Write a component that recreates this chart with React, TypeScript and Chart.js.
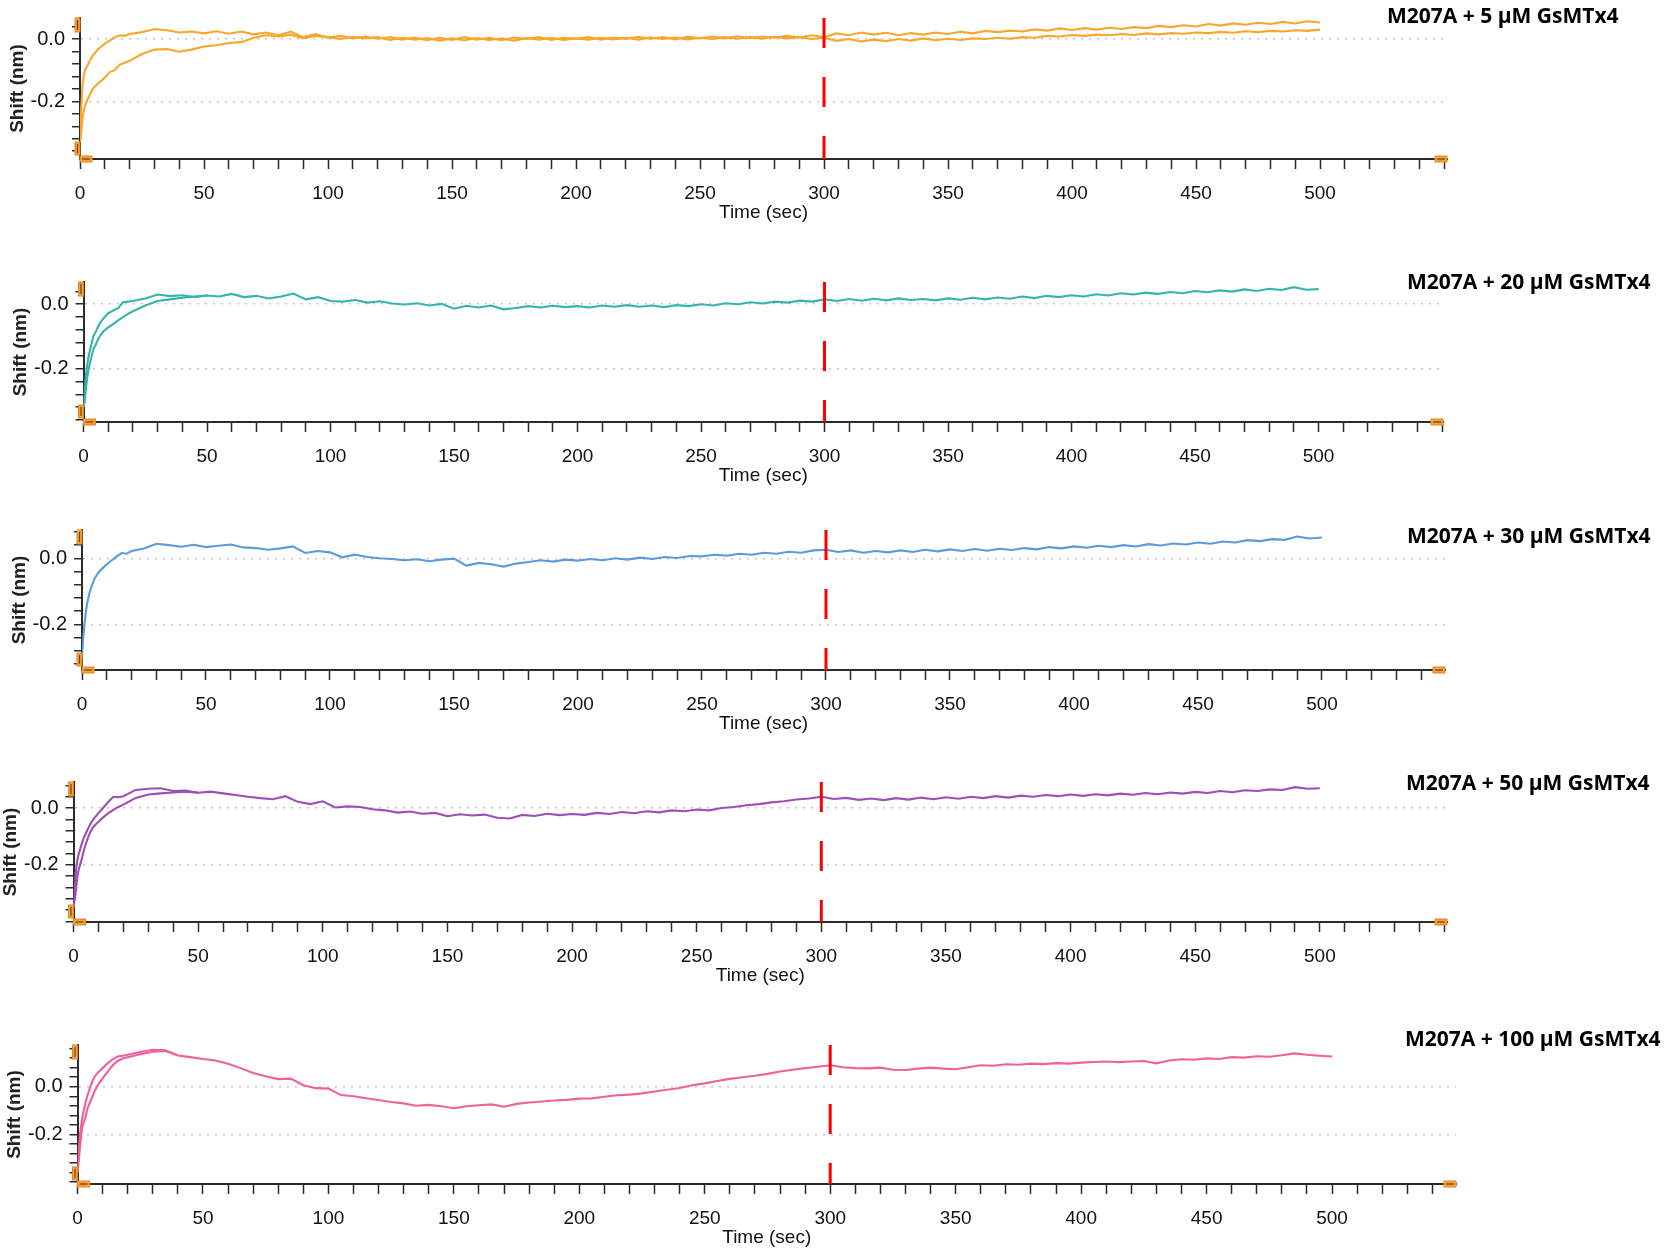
import { useEffect, useRef } from "react";
import { Chart, registerables } from "chart.js";

Chart.register(...registerables);

// sampling times (s) shared by every trace
const TIME = [
  0, 0.5, 1, 1.5, 2, 3, 4, 5, 6, 7, 8, 10, 12, 14, 16, 18,
  20, 25, 30, 35, 40, 45,
  50, 55, 60, 65, 70, 75, 80, 85, 90, 95,
  100, 105, 110, 115, 120, 125, 130, 135, 140, 145,
  150, 155, 160, 165, 170, 175, 180, 185, 190, 195,
  200, 205, 210, 215, 220, 225, 230, 235, 240, 245,
  250, 255, 260, 265, 270, 275, 280, 285, 290, 295,
  300, 305, 310, 315, 320, 325, 330, 335, 340, 345,
  350, 355, 360, 365, 370, 375, 380, 385, 390, 395,
  400, 405, 410, 415, 420, 425, 430, 435, 440, 445,
  450, 455, 460, 465, 470, 475, 480, 485, 490, 495,
  500,
];

// 5 µM GsMTx4
const P1_UPPER = [
  -0.33, -0.22, -0.15, -0.12, -0.1, -0.085, -0.07, -0.055, -0.045, -0.035, -0.028, -0.015, -0.005, 0.006, 0.012, 0.01,
  0.016, 0.022, 0.032, 0.028, 0.021, 0.024,
  0.018, 0.025, 0.017, 0.024, 0.015, 0.021, 0.012, 0.024, 0.006, 0.016,
  0.004, 0.01, 0.002, 0.008, 0.001, 0.006, -0.002, 0.005, -0.004, 0.004,
  -0.003, 0.006, -0.002, 0.004, -0.004, 0.005, 0.0, 0.006, -0.003, 0.004,
  0.001, 0.006, -0.002, 0.005, 0.0, 0.007, 0.001, 0.006, -0.001, 0.007,
  0.002, 0.008, 0.002, 0.009, 0.003, 0.008, 0.004, 0.01, 0.005, 0.012,
  0.006, 0.018, 0.012, 0.021, 0.014, 0.02, 0.012, 0.019, 0.014, 0.021,
  0.016, 0.023, 0.018, 0.026, 0.022, 0.027, 0.024, 0.031, 0.027, 0.034,
  0.029, 0.035, 0.03, 0.036, 0.032, 0.038, 0.035, 0.042, 0.038, 0.044,
  0.04, 0.048, 0.043, 0.05, 0.046, 0.052, 0.048, 0.055, 0.05, 0.057,
  0.053,
];
const P1_LOWER = [
  -0.33, -0.3, -0.255, -0.23, -0.215, -0.195, -0.178, -0.162, -0.152, -0.145, -0.138, -0.124, -0.106, -0.1, -0.082, -0.076,
  -0.07, -0.048, -0.034, -0.032, -0.041, -0.034,
  -0.024, -0.02, -0.013, -0.01, 0.004, 0.012, 0.008, 0.014, 0.003, 0.01,
  0.006, 0.0, 0.007, 0.002, 0.006, -0.003, 0.004, -0.002, 0.003, -0.005,
  0.002, -0.004, 0.003, -0.003, 0.002, -0.005, 0.003, -0.002, 0.004, -0.003,
  0.002, -0.002, 0.004, -0.001, 0.004, -0.002, 0.005, 0.0, 0.005, -0.001,
  0.004, 0.0, 0.006, 0.001, 0.006, 0.001, 0.007, 0.002, 0.006, 0.0,
  0.004, -0.006, 0.0, -0.008, -0.002, -0.007, 0.0, -0.005, 0.002, -0.004,
  0.001, -0.003, 0.002, 0.0, 0.004, 0.001, 0.006, 0.004, 0.01, 0.008,
  0.013, 0.01, 0.014, 0.012, 0.016, 0.013, 0.018, 0.015, 0.019, 0.017,
  0.021, 0.019, 0.023, 0.02, 0.025, 0.022, 0.026, 0.024, 0.028, 0.026,
  0.03,
];

// 20 µM GsMTx4
const P2_MAIN = [
  -0.32, -0.27, -0.22, -0.19, -0.165, -0.13, -0.1, -0.085, -0.068, -0.055, -0.045, -0.028, -0.02, -0.012, 0.006, 0.008,
  0.01, 0.018, 0.03, 0.025, 0.028, 0.022,
  0.027, 0.024, 0.032, 0.022, 0.026, 0.018, 0.024, 0.033, 0.015, 0.022,
  0.01, 0.008, 0.013, 0.005, 0.009, 0.002, -0.001, 0.003, -0.004, 0.001,
  -0.014, -0.005, -0.01, -0.004, -0.016, -0.012, -0.006, -0.01, -0.005, -0.009,
  -0.006, -0.01, -0.004, -0.008, -0.003, -0.008, -0.004, -0.009, -0.003, -0.006,
  0.0, -0.004, 0.003, 0.0, 0.006, 0.002, 0.008, 0.005, 0.011, 0.008,
  0.015, 0.01, 0.016, 0.011, 0.017, 0.012, 0.018, 0.013, 0.016, 0.012,
  0.018, 0.014, 0.02, 0.015, 0.021, 0.017, 0.024, 0.019, 0.026, 0.022,
  0.028, 0.024, 0.031, 0.027, 0.034, 0.03, 0.036, 0.032, 0.038, 0.034,
  0.041, 0.037, 0.043, 0.039, 0.046, 0.041, 0.048, 0.044, 0.053, 0.045,
  0.047,
];
const P2_EARLY = [
  -0.32, -0.3, -0.26, -0.23, -0.205, -0.17, -0.14, -0.125, -0.107, -0.095, -0.085, -0.072, -0.062, -0.05, -0.04, -0.03,
  -0.022, -0.004, 0.01, 0.015, 0.02, 0.024,
  0.027,
];

// 30 µM GsMTx4
const P3_MAIN = [
  -0.3, -0.24, -0.2, -0.165, -0.14, -0.105, -0.082, -0.063, -0.05, -0.04, -0.032, -0.018, -0.006, 0.006, 0.016, 0.014,
  0.022, 0.03, 0.044, 0.04, 0.035, 0.041,
  0.034, 0.038, 0.042, 0.033, 0.031, 0.026, 0.03, 0.036, 0.016, 0.022,
  0.018, 0.003, 0.011, 0.004, 0.0, -0.002, -0.006, -0.003, -0.009, -0.004,
  -0.001, -0.022, -0.014, -0.018, -0.025, -0.016, -0.011, -0.006, -0.01, -0.004,
  -0.007, -0.002, -0.006, 0.0, -0.004, 0.002, -0.002, 0.004, 0.001, 0.007,
  0.006, 0.011, 0.008, 0.014, 0.011, 0.017, 0.014, 0.02, 0.017, 0.024,
  0.026, 0.019, 0.024, 0.017, 0.022, 0.018, 0.024, 0.019, 0.026, 0.021,
  0.027, 0.022, 0.028, 0.023, 0.029, 0.025, 0.031, 0.027, 0.034, 0.03,
  0.036, 0.032, 0.038, 0.034, 0.04, 0.036, 0.043, 0.039, 0.045, 0.042,
  0.048, 0.044, 0.051, 0.048, 0.055, 0.052, 0.058, 0.056, 0.066, 0.06,
  0.063,
];

// 50 µM GsMTx4
const P4_MAIN = [
  -0.35, -0.28, -0.22, -0.185, -0.165, -0.135, -0.108, -0.088, -0.07, -0.052, -0.04, -0.018, 0.002, 0.022, 0.04, 0.038,
  0.042, 0.064, 0.068, 0.07, 0.06, 0.062,
  0.054, 0.058, 0.052, 0.046, 0.04, 0.035, 0.031, 0.042, 0.022, 0.014,
  0.024, 0.002, 0.006, 0.004, -0.004, -0.008, -0.016, -0.012, -0.02, -0.017,
  -0.029, -0.022, -0.026, -0.023, -0.034, -0.037, -0.024, -0.028, -0.02, -0.025,
  -0.021, -0.024, -0.017, -0.021, -0.014, -0.018, -0.011, -0.015, -0.008, -0.011,
  -0.005, -0.008, 0.0, 0.004, 0.01, 0.014, 0.02, 0.024, 0.03, 0.034,
  0.04, 0.032, 0.036, 0.029, 0.034, 0.028, 0.035, 0.03, 0.037, 0.031,
  0.038, 0.033, 0.04, 0.035, 0.042, 0.037, 0.044, 0.04, 0.046, 0.042,
  0.048, 0.043, 0.049, 0.045, 0.051, 0.047, 0.053, 0.049, 0.055, 0.051,
  0.057, 0.053, 0.06, 0.056, 0.063, 0.06, 0.066, 0.064, 0.074, 0.068,
  0.07,
];
const P4_EARLY = [
  -0.35, -0.32, -0.29, -0.245, -0.22, -0.19, -0.155, -0.125, -0.1, -0.08, -0.066, -0.048, -0.032, -0.018, -0.006, 0.004,
  0.012, 0.036, 0.048, 0.052, 0.055, 0.058,
  0.054,
];

// 100 µM GsMTx4
const P5_MAIN = [
  -0.36, -0.27, -0.2, -0.16, -0.125, -0.075, -0.035, -0.005, 0.025, 0.045, 0.058, 0.078, 0.098, 0.115, 0.127, 0.13,
  0.134, 0.146, 0.155, 0.153, 0.131, 0.124,
  0.116, 0.11, 0.096, 0.078, 0.058, 0.044, 0.032, 0.034, 0.006, -0.006,
  -0.008, -0.035, -0.04, -0.048, -0.056, -0.064, -0.07, -0.08, -0.076, -0.082,
  -0.09, -0.082, -0.078, -0.074, -0.084, -0.072, -0.066, -0.062, -0.058, -0.055,
  -0.05, -0.049, -0.042, -0.036, -0.033, -0.028, -0.02, -0.013, -0.005, 0.006,
  0.014, 0.024, 0.033, 0.04, 0.046, 0.054, 0.064, 0.071, 0.078, 0.084,
  0.09, 0.082, 0.078, 0.077, 0.08, 0.071, 0.07, 0.076, 0.08, 0.076,
  0.073, 0.082, 0.09, 0.088, 0.094, 0.092, 0.097, 0.095, 0.099, 0.097,
  0.101, 0.104, 0.106, 0.103, 0.106, 0.108, 0.098, 0.11, 0.115, 0.113,
  0.119, 0.116, 0.124, 0.122, 0.128, 0.126, 0.132, 0.14, 0.134, 0.13,
  0.127,
];
const P5_EARLY = [
  -0.36, -0.31, -0.25, -0.2, -0.165, -0.135, -0.09, -0.065, -0.04, -0.015, 0.005, 0.035, 0.062, 0.09, 0.108, 0.118,
  0.124, 0.136, 0.147, 0.15, 0.132,
];

const TITLES = [
  "M207A + 5 µM GsMTx4",
  "M207A + 20 µM GsMTx4",
  "M207A + 30 µM GsMTx4",
  "M207A + 50 µM GsMTx4",
  "M207A + 100 µM GsMTx4",
];

const X_TICKS = [
  0, 10, 20, 30, 40, 50, 60, 70, 80, 90, 100, 110, 120, 130, 140, 150, 160, 170, 180, 190,
  200, 210, 220, 230, 240, 250, 260, 270, 280, 290, 300, 310, 320, 330, 340, 350, 360, 370,
  380, 390, 400, 410, 420, 430, 440, 450, 460, 470, 480, 490, 500, 510, 520, 530, 540, 550,
];
const X_LABELS = [0, 50, 100, 150, 200, 250, 300, 350, 400, 450, 500];
const Y_TICKS = [0.16, 0.12, 0.08, 0.04, 0, -0.04, -0.08, -0.12, -0.16, -0.2, -0.24, -0.28, -0.32, -0.36, -0.4];
const Y_LABELS = [0, -0.2];
const INJECTION_TIME = 300;

const SANS = '"Liberation Sans", Arial, sans-serif';
const AXIS = "#2b2b2b";
const CANVAS_W = 1470;
const Y_SCALE_W = 74;
const X_SCALE_H = 65;

const PANELS = [
  { title: TITLES[0], color: "#f9a62c", traces: [P1_UPPER, P1_LOWER],
    plot: { left: 80, right: 1447, top: 18, bottom: 159 }, xMax: 551.2, yMin: -0.385, yMax: 0.0674,
    titleX: 1387, titleY: 15 },
  { title: TITLES[1], color: "#35b4ac", traces: [P2_MAIN, P2_EARLY],
    plot: { left: 83.5, right: 1443, top: 282, bottom: 422 }, xMax: 550.4, yMin: -0.366, yMax: 0.069,
    titleX: 1407, titleY: 281 },
  { title: TITLES[2], color: "#5a9bd8", traces: [P3_MAIN],
    plot: { left: 82, right: 1445, top: 530, bottom: 670 }, xMax: 549.6, yMin: -0.3385, yMax: 0.0858,
    titleX: 1407, titleY: 535 },
  { title: TITLES[3], color: "#9c4fb4", traces: [P4_MAIN, P4_EARLY],
    plot: { left: 73.5, right: 1447, top: 782, bottom: 922 }, xMax: 551, yMin: -0.402, yMax: 0.092,
    titleX: 1406, titleY: 782 },
  { title: TITLES[4], color: "#f0609b", traces: [P5_MAIN, P5_EARLY],
    plot: { left: 77.5, right: 1456, top: 1045, bottom: 1184 }, xMax: 549.4, yMin: -0.408, yMax: 0.175,
    titleX: 1405, titleY: 1038 },
];

type Panel = (typeof PANELS)[number];

const isLabel = (list: number[], v: number) => list.some((l) => Math.abs(l - v) < 1e-6);

// small orange handles at the axis ends, like the instrument software draws
const axisHandles = {
  id: "axisHandles",
  afterDraw(chart: Chart) {
    const { ctx, chartArea } = chart;
    const { left, right, top, bottom } = chartArea;
    const boxes: [number, number, number, number][] = [
      [left - 5, top, 5, 14],
      [left - 5, bottom - 17, 5, 13],
      [left, bottom - 3, 12, 6],
      [right - 12, bottom - 3, 12, 6],
    ];
    ctx.save();
    boxes.forEach(([x, y, w, h]) => {
      ctx.fillStyle = "#f6a140";
      ctx.strokeStyle = "#e5861a";
      ctx.lineWidth = 1;
      ctx.fillRect(x, y, w, h);
      ctx.strokeRect(x, y, w, h);
      ctx.strokeStyle = "#6b4312";
      ctx.lineWidth = 1.2;
      ctx.beginPath();
      if (w < h) {
        ctx.moveTo(x + w / 2, y + 2);
        ctx.lineTo(x + w / 2, y + h - 2);
      } else {
        ctx.moveTo(x + 2, y + h / 2);
        ctx.lineTo(x + w - 2, y + h / 2);
      }
      ctx.stroke();
    });
    ctx.restore();
  },
};

function KineticsPanel({ panel }: { panel: Panel }) {
  const canvasRef = useRef<HTMLCanvasElement>(null);
  const canvasTop = Math.round(panel.plot.top) - 20;
  const canvasH = Math.round(panel.plot.bottom) - canvasTop + X_SCALE_H + 6;

  useEffect(() => {
    if (!canvasRef.current) return;
    const ctx = canvasRef.current.getContext("2d");
    if (!ctx) return;
    const { plot } = panel;

    const traces = panel.traces.map((values) => ({
      data: values.map((v, i) => ({ x: TIME[i], y: v })),
      borderColor: panel.color,
      borderWidth: 2.1,
      pointRadius: 0,
      tension: 0,
      order: 1,
    }));

    const chart = new Chart(ctx, {
      type: "line",
      data: {
        datasets: [
          ...traces,
          {
            data: [
              { x: INJECTION_TIME, y: panel.yMax },
              { x: INJECTION_TIME, y: panel.yMin },
            ],
            borderColor: "#ff0000",
            borderWidth: 3,
            borderDash: [30, 29],
            pointRadius: 0,
            order: 0,
          },
        ],
      },
      options: {
        responsive: false,
        maintainAspectRatio: false,
        animation: false,
        events: [],
        layout: {
          padding: {
            left: plot.left - Y_SCALE_W,
            right: CANVAS_W - plot.right,
            top: plot.top - canvasTop,
            bottom: 6,
          },
        },
        plugins: {
          legend: { display: false },
          tooltip: { enabled: false },
        },
        scales: {
          x: {
            type: "linear",
            min: 0,
            max: panel.xMax,
            afterBuildTicks: (scale: any) => {
              scale.ticks = X_TICKS.filter((v) => v <= scale.max).map((v) => ({ value: v }));
            },
            afterFit: (scale: any) => {
              scale.height = X_SCALE_H;
            },
            ticks: {
              autoSkip: false,
              maxRotation: 0,
              minRotation: 0,
              padding: 13,
              color: "#111",
              font: { family: SANS, size: 19 },
              callback: (v: any) => (isLabel(X_LABELS, Number(v)) ? String(v) : ""),
            },
            grid: {
              drawOnChartArea: false,
              drawTicks: true,
              tickLength: 10,
              tickColor: AXIS,
              tickWidth: 1.5,
            },
            border: { color: AXIS, width: 2 },
            title: {
              display: true,
              text: "Time (sec)",
              color: "#111",
              font: { family: SANS, size: 19 },
              padding: 0,
            },
          },
          y: {
            type: "linear",
            min: panel.yMin,
            max: panel.yMax,
            afterBuildTicks: (scale: any) => {
              scale.ticks = Y_TICKS.filter((v) => v >= scale.min && v <= scale.max).map((v) => ({ value: v }));
            },
            afterFit: (scale: any) => {
              scale.width = Y_SCALE_W;
            },
            ticks: {
              autoSkip: false,
              padding: 7,
              color: "#111",
              font: { family: SANS, size: 20 },
              callback: (v: any) => (isLabel(Y_LABELS, Number(v)) ? Number(v).toFixed(1) : ""),
            },
            grid: {
              drawOnChartArea: true,
              color: (c: any) => (c.tick && isLabel(Y_LABELS, c.tick.value) ? "#c4c4c4" : "rgba(0,0,0,0)"),
              lineWidth: 1.5,
              tickLength: 8,
              tickColor: AXIS,
              tickWidth: 1.5,
            },
            border: { color: AXIS, width: 2, dash: [2, 6] },
            title: {
              display: true,
              text: "Shift (nm)",
              color: "#222",
              font: { family: SANS, size: 19, weight: "bold" },
              padding: 0,
            },
          },
        },
      },
      plugins: [axisHandles],
    } as any);

    return () => {
      chart.destroy();
    };
  }, [panel, canvasTop]);

  return (
    <>
      <div style={{ position: "absolute", left: 0, top: canvasTop, width: CANVAS_W, height: canvasH }}>
        <canvas
          ref={canvasRef}
          width={CANVAS_W}
          height={canvasH}
          style={{ width: CANVAS_W, height: canvasH, display: "block" }}
        />
      </div>
      <div
        style={{
          position: "absolute",
          left: panel.titleX,
          top: panel.titleY - 13,
          lineHeight: "26px",
          fontFamily: '"Open Sans", "Noto Sans", sans-serif',
          fontWeight: 700,
          fontSize: 21,
          color: "#000",
          whiteSpace: "nowrap",
        }}
      >
        {panel.title}
      </div>
    </>
  );
}

export default function App() {
  return (
    <div
      style={{
        position: "absolute",
        left: 0,
        top: 0,
        width: 1664,
        height: 1256,
        overflow: "hidden",
        background: "#fff",
      }}
    >
      {PANELS.map((p) => (
        <KineticsPanel key={p.title} panel={p} />
      ))}
    </div>
  );
}
